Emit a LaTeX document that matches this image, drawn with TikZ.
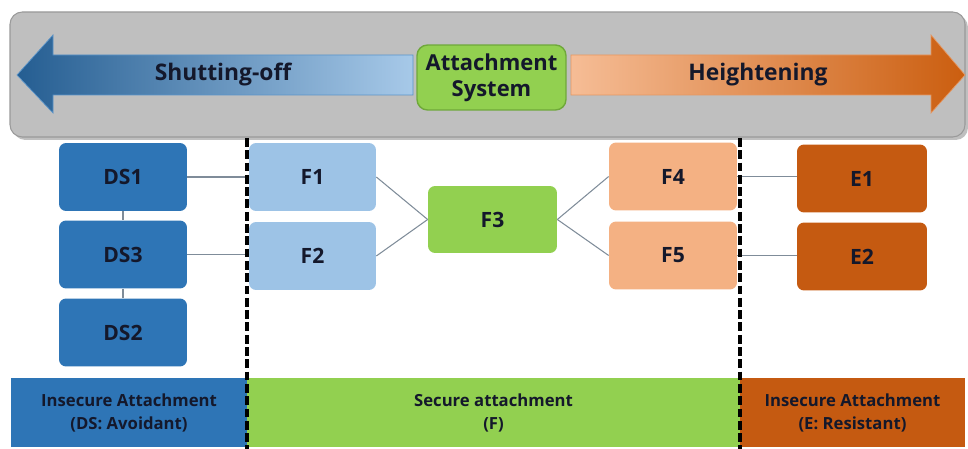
\documentclass[tikz,border=0pt]{standalone}
\usepackage{fontspec}
\setmainfont{Open Sans}
\usetikzlibrary{calc}
\definecolor{band}{HTML}{BFBFBF}
\definecolor{bandline}{HTML}{9A9A9A}
\definecolor{dsblue}{HTML}{2E75B6}
\definecolor{flight}{HTML}{9DC3E6}
\definecolor{fgreen}{HTML}{92D050}
\definecolor{fgreenline}{HTML}{6FA83A}
\definecolor{forange}{HTML}{F4B183}
\definecolor{eorange}{HTML}{C55A11}
\definecolor{txt}{HTML}{14182B}
\definecolor{conn}{HTML}{7F8C99}
\tikzset{
  box/.style={rounded corners=4pt, minimum width=2.56cm, minimum height=1.36cm,
    font=\bfseries\fontsize{12}{14}\selectfont, text=txt, inner sep=0pt},
  dsbox/.style={box, fill=dsblue},
  fbox/.style={box, fill=flight},
  f3box/.style={box, fill=fgreen, minimum width=2.58cm, minimum height=1.34cm},
  f45box/.style={box, fill=forange},
  ebox/.style={box, fill=eorange, minimum width=2.6cm},
  conline/.style={draw=conn, line width=0.6pt},
  divider/.style={draw=black, line width=1.9pt, dash pattern=on 5pt off 2pt},
  bartext/.style={font=\bfseries\fontsize{9.5}{13.5}\selectfont, text=txt, align=center},
  arrowtext/.style={font=\bfseries\fontsize{13}{15}\selectfont, text=txt}
}
\begin{document}
\begin{tikzpicture}[x=0.02cm,y=-0.02cm]
\useasboundingbox (0,0) rectangle (968,449);
% gray band
\fill[black!25, rounded corners=7pt] (13,15) rectangle (968,140);
\draw[fill=band, draw=bandline, line width=0.6pt, rounded corners=7pt] (10,12) rectangle (965,137);
% left arrow
\shade[left color=dsblue!80!black, right color=flight!90!white, draw=dsblue!60!flight, line width=0.4pt]
  (17,75) -- (53,35) -- (53,55) -- (413,55) -- (413,95) -- (53,95) -- (53,113) -- cycle;
\node[arrowtext] (shut) at (223,75) {Shutting-off};
% right arrow
\shade[left color=forange!85!white, right color=eorange!90!orange, draw=forange!70!eorange, line width=0.4pt]
  (571,55) -- (931,55) -- (931,35) -- (965,75) -- (931,113) -- (931,95) -- (571,95) -- cycle;
\node[arrowtext] (heigh) at (758,75) {Heightening};
% central box
\node[box, fill=fgreen, draw=fgreenline, line width=0.8pt, rounded corners=6pt,
  minimum width=2.98cm, minimum height=1.3cm, align=center,
  font=\bfseries\fontsize{12.5}{15}\selectfont] (att) at (491.5,77.5) {Attachment\\System};
% nodes
\node[dsbox] (ds1) at (123,177) {DS1};
\node[dsbox] (ds3) at (123,254.5) {DS3};
\node[dsbox] (ds2) at (123,332.5) {DS2};
\node[fbox, minimum width=2.54cm] (f1) at (312.5,177) {F1};
\node[fbox, minimum width=2.54cm] (f2) at (312.5,256) {F2};
\node[f3box] (f3) at (492.5,219.5) {F3};
\node[f45box] (f4) at (673,176.5) {F4};
\node[f45box] (f5) at (673,255.5) {F5};
\node[ebox] (e1) at (862,178.5) {E1};
\node[ebox] (e2) at (862,256.5) {E2};
% connectors
\draw[conline] (ds1) -- (ds3);
\draw[conline] (ds3) -- (ds2);
\draw[conline] (ds1.east) -- (f1.west);
\draw[conline] (ds3.east) -- (ds3.east -| f2.west);
\draw[conline] (f1.east) -- (f3.west);
\draw[conline] (f2.east) -- (f3.west);
\draw[conline] (f3.east) -- (f4.west);
\draw[conline] (f3.east) -- (f5.west);
\draw[conline] (f4.east) -- (f4.east -| e1.west);
\draw[conline] (f5.east) -- (f5.east -| e2.west);
% bottom bar
\fill[dsblue] (11,378) rectangle (247,447);
\fill[fgreen] (247,378) rectangle (740,447);
\fill[eorange] (740,378) rectangle (965,447);
\node[bartext] (b1) at (129,413) {Insecure Attachment\\(DS: Avoidant)};
\node[bartext] (b2) at (493.5,413) {Secure attachment\\(F)};
\node[bartext] (b3) at (852.5,413) {Insecure Attachment\\(E: Resistant)};
% dividers
\coordinate (d1t) at (247,138);
\coordinate (d1b) at (247,449);
\coordinate (d2t) at (740,138);
\coordinate (d2b) at (740,449);
\draw[divider] (d1t) -- (d1b);
\draw[divider] (d2t) -- (d2b);
\end{tikzpicture}
\end{document}
